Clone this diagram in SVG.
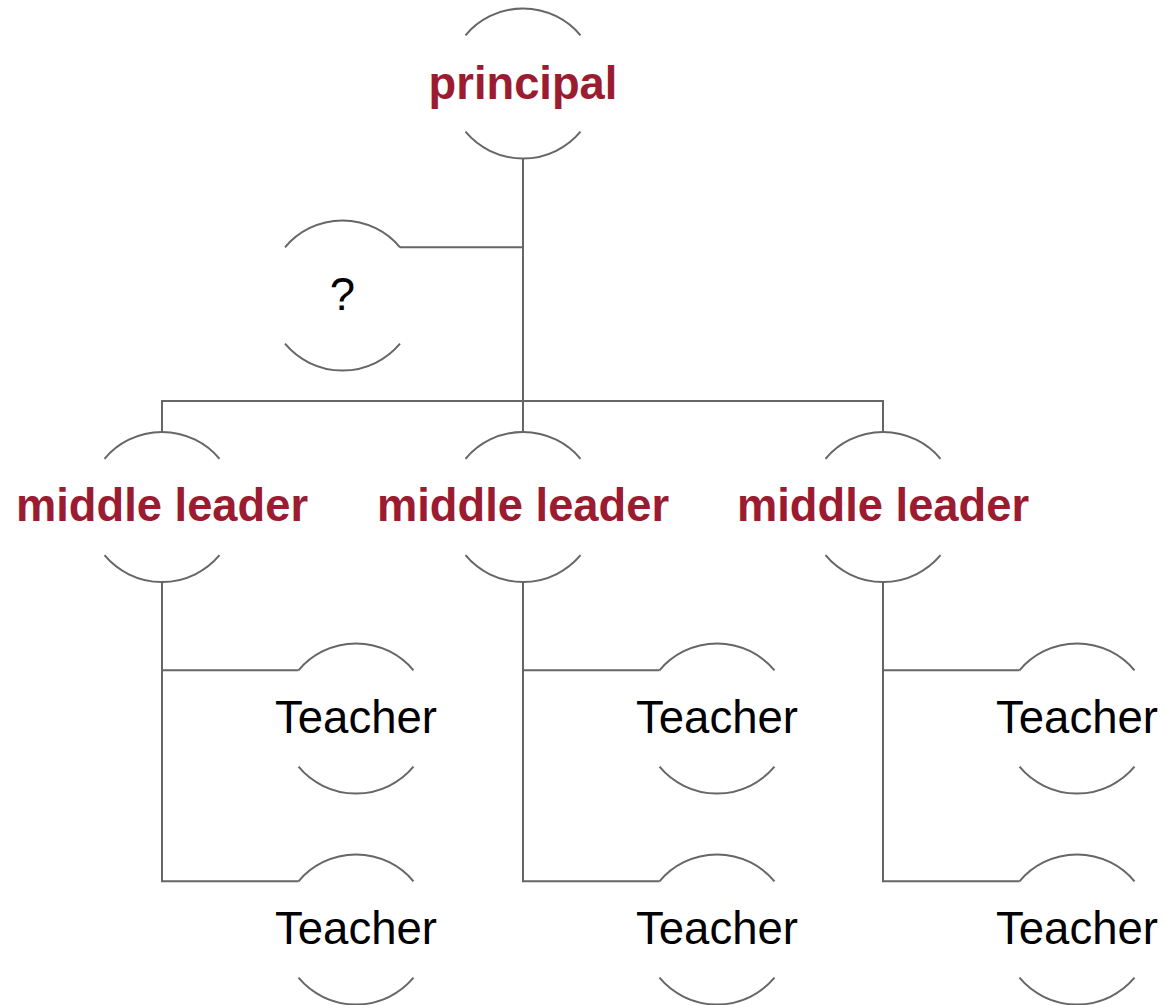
<svg xmlns="http://www.w3.org/2000/svg" width="1165" height="1005" viewBox="0 0 1165 1005">
  <style>
    .line { fill: none; stroke: #666666; stroke-width: 2; }
    .lead { font-family: "Liberation Sans", Arial, sans-serif; font-size: 45.3px; font-weight: bold; fill: #9b1b30; text-anchor: middle; }
    .plain { font-family: "Liberation Sans", Arial, sans-serif; font-size: 45.5px; fill: #000000; text-anchor: middle; }
  </style>
  <defs>
    <!-- circle of r=75 drawn as top and bottom arcs only -->
    <path id="bracket" class="line" d="M -57.5 -48.2 A 75 75 0 0 1 57.5 -48.2 M -57.5 48.2 A 75 75 0 0 0 57.5 48.2"/>
  </defs>
  <rect width="1165" height="1005" fill="#ffffff"/>

  <g id="connectors" class="line">
    <!-- trunk from principal -->
    <path d="M 523 158.5 V 401"/>
    <path d="M 400 247.3 H 523"/>
    <path d="M 162 432 V 401 H 883 V 432"/>
    <path d="M 523 401 V 432"/>
    <!-- middle leader branches -->
    <path d="M 162 582 V 881.3 H 298.5 M 162 670.3 H 298.5"/>
    <path d="M 523 582 V 881.3 H 659.5 M 523 670.3 H 659.5"/>
    <path d="M 883 582 V 881.3 H 1019.5 M 883 670.3 H 1019.5"/>
  </g>

  <g id="principal">
    <use href="#bracket" x="523" y="83.5"/>
    <text class="lead" x="523" y="98.5">principal</text>
  </g>
  <g id="unknown">
    <use href="#bracket" x="342.5" y="295.5"/>
    <text class="plain" x="342.5" y="310">?</text>
  </g>

  <g id="leader-1">
    <use href="#bracket" x="162" y="507"/>
    <text class="lead" x="162" y="521">middle leader</text>
  </g>
  <g id="leader-2">
    <use href="#bracket" x="523" y="507"/>
    <text class="lead" x="523" y="521">middle leader</text>
  </g>
  <g id="leader-3">
    <use href="#bracket" x="883" y="507"/>
    <text class="lead" x="883" y="521">middle leader</text>
  </g>

  <g id="teacher-1a">
    <use href="#bracket" x="356" y="718.5"/>
    <text class="plain" x="356" y="732.5">Teacher</text>
  </g>
  <g id="teacher-1b">
    <use href="#bracket" x="356" y="929.5"/>
    <text class="plain" x="356" y="943.5">Teacher</text>
  </g>
  <g id="teacher-2a">
    <use href="#bracket" x="717" y="718.5"/>
    <text class="plain" x="717" y="732.5">Teacher</text>
  </g>
  <g id="teacher-2b">
    <use href="#bracket" x="717" y="929.5"/>
    <text class="plain" x="717" y="943.5">Teacher</text>
  </g>
  <g id="teacher-3a">
    <use href="#bracket" x="1077" y="718.5"/>
    <text class="plain" x="1077" y="732.5">Teacher</text>
  </g>
  <g id="teacher-3b">
    <use href="#bracket" x="1077" y="929.5"/>
    <text class="plain" x="1077" y="943.5">Teacher</text>
  </g>
</svg>
